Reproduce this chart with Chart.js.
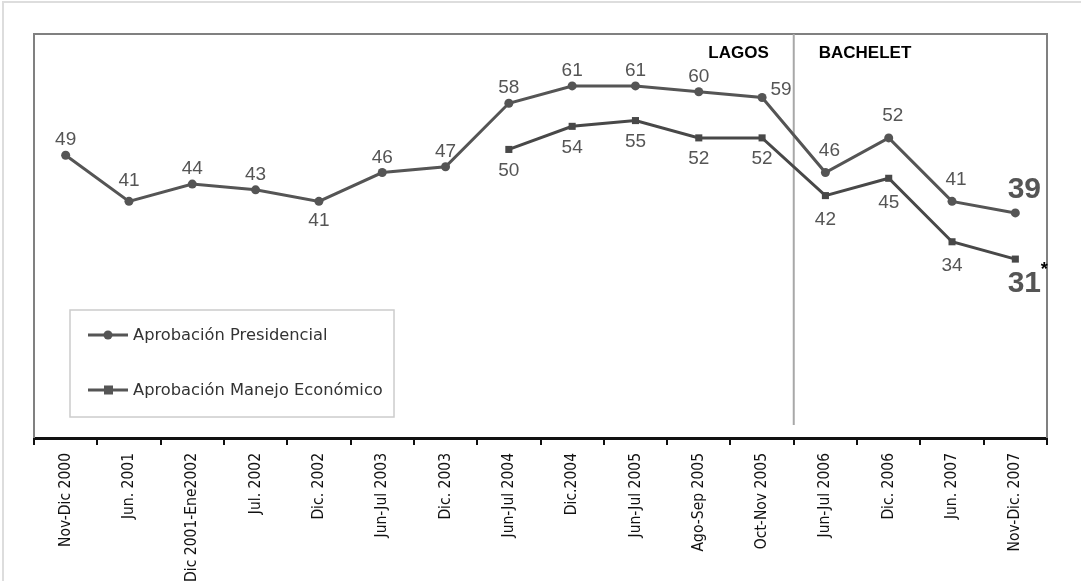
<!DOCTYPE html>
<html>
<head>
<meta charset="utf-8">
<script src="https://cdn.jsdelivr.net/npm/chart.js@4.4.1/dist/chart.umd.min.js"></script>
<style>
  html, body { margin: 0; padding: 0; background: #fff; }
  #wrap { width: 1081px; height: 581px; position: relative; }
</style>
</head>
<body>
<div id="wrap"><canvas id="myChart"></canvas></div>
<script>
// data
var categories = ['Nov-Dic 2000', 'Jun. 2001', 'Dic 2001-Ene2002', 'Jul. 2002', 'Dic. 2002',
    'Jun-Jul 2003', 'Dic. 2003', 'Jun-Jul 2004', 'Dic.2004', 'Jun-Jul 2005', 'Ago-Sep 2005',
    'Oct-Nov 2005', 'Jun-Jul 2006', 'Dic. 2006', 'Jun. 2007', 'Nov-Dic. 2007'];
var presidencial = [49, 41, 44, 43, 41, 46, 47, 58, 61, 61, 60, 59, 46, 52, 41, 39];
var economico = [null, null, null, null, null, null, null, 50, 54, 55, 52, 52, 42, 45, 34, 31];
var seriesNames = ['Aprobación Presidencial', 'Aprobación Manejo Económico'];
var periods = ['LAGOS', 'BACHELET'];
var firstBachelet = 12;   // index of the first category under Bachelet
var yMin = 0, yMax = 70;

var lineGray = '#555555';
var labelGray = '#555555';

// frame, separator and period names
var framePlugin = {
    id: 'frame',
    beforeDatasetsDraw: function(chart) {
        var ctx = chart.ctx, a = chart.chartArea, x = chart.scales.x;
        ctx.save();
        // faint page border
        ctx.strokeStyle = '#dddddd';
        ctx.lineWidth = 2;
        ctx.beginPath();
        ctx.moveTo(3, 581); ctx.lineTo(3, 2); ctx.lineTo(1081, 2);
        ctx.stroke();
        // plot frame
        ctx.strokeStyle = '#808080';
        ctx.lineWidth = 2;
        ctx.beginPath();
        ctx.moveTo(a.left, a.bottom); ctx.lineTo(a.left, a.top);
        ctx.lineTo(a.right, a.top); ctx.lineTo(a.right, a.bottom);
        ctx.stroke();
        // Lagos / Bachelet separator
        var sx = (x.getPixelForValue(firstBachelet - 1) + x.getPixelForValue(firstBachelet)) / 2;
        ctx.strokeStyle = '#a8a8a8';
        ctx.beginPath();
        ctx.moveTo(sx, a.top); ctx.lineTo(sx, a.bottom - 13);
        ctx.stroke();
        ctx.fillStyle = '#000';
        ctx.font = 'bold 17px "Liberation Sans", Arial, sans-serif';
        ctx.textBaseline = 'middle';
        ctx.textAlign = 'right';
        ctx.fillText(periods[0], sx - 25, a.top + 19);
        ctx.textAlign = 'left';
        ctx.fillText(periods[1], sx + 25, a.top + 19);
        ctx.restore();
    }
};

// value labels next to each point
var labelPlugin = {
    id: 'valueLabels',
    afterDatasetsDraw: function(chart) {
        var ctx = chart.ctx;
        ctx.save();
        ctx.fillStyle = labelGray;
        ctx.textAlign = 'center';
        ctx.textBaseline = 'middle';
        chart.data.datasets.forEach(function(ds, di) {
            var meta = chart.getDatasetMeta(di);
            var last = ds.data.length - 1;
            meta.data.forEach(function(pt, i) {
                var v = ds.data[i];
                if (v === null || v === undefined) return;
                var dx = 0, dy = di === 0 ? -15 : 21;
                ctx.font = '19px "Liberation Sans", Arial, sans-serif';
                if (di === 0 && i === 1) dy = -21;
                if (di === 0 && i === 4) dy = 19;        // Dic. 2002 sits below
                if (di === 0 && i === 11) { dx = 19; dy = -8; }
                if (di === 0 && i >= 12 && i < last) { dx = 4; dy = -22; }
                if (di === 1 && i >= 12) dy = 24;
                if (i === last) {
                    ctx.font = 'bold 30px "Liberation Sans", Arial, sans-serif';
                    dx = 9;
                    dy = di === 0 ? -23 : 25;
                }
                ctx.fillText(String(v), pt.x + dx, pt.y + dy);
                if (di === 1 && i === last) {
                    ctx.fillStyle = '#000';
                    ctx.font = 'bold 18px "Liberation Sans", Arial, sans-serif';
                    ctx.fillText('*', pt.x + 29, pt.y + 11);
                    ctx.fillStyle = labelGray;
                }
            });
        });
        ctx.restore();
    }
};

// boxed legend inside the plot
var legendPlugin = {
    id: 'boxLegend',
    afterDraw: function(chart) {
        var ctx = chart.ctx, a = chart.chartArea;
        var bx = a.left + 36, by = a.top + 276;
        ctx.save();
        ctx.strokeStyle = '#cccccc';
        ctx.lineWidth = 1.5;
        ctx.strokeRect(bx, by, 324, 107);
        ctx.font = '16.3px "DejaVu Sans", sans-serif';
        ctx.textBaseline = 'middle';
        ctx.textAlign = 'left';
        chart.data.datasets.forEach(function(ds, di) {
            var y = by + 25 + di * 55;
            ctx.strokeStyle = lineGray;
            ctx.lineWidth = 3;
            ctx.beginPath();
            ctx.moveTo(bx + 18, y); ctx.lineTo(bx + 58, y);
            ctx.stroke();
            ctx.fillStyle = lineGray;
            if (di === 0) {
                ctx.beginPath();
                ctx.arc(bx + 38, y, 4.5, 0, Math.PI * 2);
                ctx.fill();
            } else {
                ctx.fillRect(bx + 34, y - 4.5, 9, 9);
            }
            ctx.fillStyle = '#333';
            ctx.fillText(ds.label, bx + 63, y + 1);
        });
        ctx.restore();
    }
};

var ctx = document.getElementById('myChart').getContext('2d');
var myChart = new Chart(ctx, {
    type: 'line',
    data: {
        labels: categories,
        datasets: [
            {
                label: seriesNames[0],
                data: presidencial,
                borderColor: lineGray,
                backgroundColor: lineGray,
                borderWidth: 3,
                pointStyle: 'circle',
                pointRadius: 4.5,
                pointBackgroundColor: lineGray,
                pointBorderWidth: 0,
                fill: false,
                tension: 0
            },
            {
                label: seriesNames[1],
                data: economico,
                borderColor: '#484848',
                backgroundColor: '#484848',
                borderWidth: 3,
                pointStyle: 'rect',
                pointRadius: 5,
                pointBackgroundColor: '#484848',
                pointBorderWidth: 0,
                fill: false,
                spanGaps: false,
                tension: 0
            }
        ]
    },
    options: {
        responsive: true,
        maintainAspectRatio: false,
        animation: false,
        layout: { padding: { left: 34, right: 34, top: 34, bottom: 0 } },
        scales: {
            x: {
                type: 'category',
                offset: true,
                grid: {
                    display: true,
                    drawOnChartArea: false,
                    drawTicks: true,
                    tickLength: 7,
                    color: '#111',
                    lineWidth: 2,
                    offset: true
                },
                border: { display: true, color: '#111', width: 3 },
                ticks: {
                    autoSkip: false,
                    minRotation: 90,
                    maxRotation: 90,
                    padding: 8,
                    color: '#111',
                    font: { family: '"DejaVu Sans Condensed", "DejaVu Sans"', size: 15.5 }
                },
                afterFit: function(axis) { axis.height = 143; }
            },
            y: {
                display: false,
                min: yMin,
                max: yMax
            }
        },
        plugins: {
            legend: { display: false },
            tooltip: { enabled: false }
        }
    },
    plugins: [framePlugin, labelPlugin, legendPlugin]
});
</script>
</body>
</html>
